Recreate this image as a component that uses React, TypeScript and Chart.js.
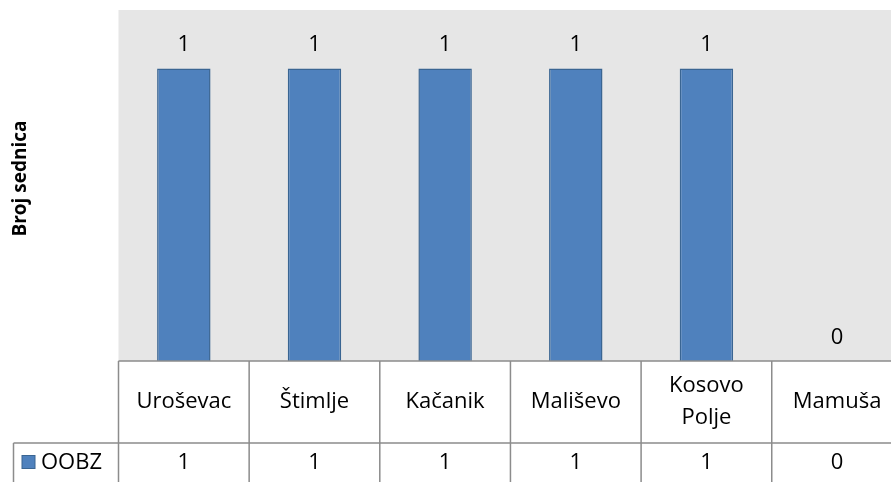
import React, { useEffect, useRef } from "react";
import { Chart, registerables } from "chart.js";

Chart.register(...registerables);

const categories: string[] = ["Uroševac", "Štimlje", "Kačanik", "Mališevo", "Kosovo Polje", "Mamuša"];
const categoryLines: string[][] = [["Uroševac"], ["Štimlje"], ["Kačanik"], ["Mališevo"], ["Kosovo", "Polje"], ["Mamuša"]];
const seriesName = "OOBZ";
const seriesValues: number[] = [1, 1, 1, 1, 1, 0];
const yAxisTitle = "Broj sednica";

const FONT = '"Open Sans", "Noto Sans", sans-serif';
const BAR_FILL = "#4f81bd";
const BAR_BORDER = "#3a6592";
const PLOT_BG = "#e6e6e6";
const GRID = "#8c8c8c";

const tablePlugin = {
  id: "excelTable",
  beforeDraw(chart: any) {
    const { ctx, chartArea } = chart;
    ctx.save();
    ctx.fillStyle = PLOT_BG;
    ctx.fillRect(chartArea.left, chartArea.top, chartArea.right - chartArea.left, chartArea.bottom - chartArea.top);
    ctx.restore();
  },
  afterDraw(chart: any) {
    const { ctx, chartArea } = chart;
    const n = categories.length;
    const colW = (chartArea.right - chartArea.left) / n;
    const headerTop = chartArea.bottom;
    const headerBottom = 443;
    const tableBottom = chart.height;
    const legendLeft = 13.5;
    ctx.save();
    // data labels
    const meta = chart.getDatasetMeta(0);
    ctx.fillStyle = "#000";
    ctx.font = `22px ${FONT}`;
    ctx.textAlign = "center";
    ctx.textBaseline = "alphabetic";
    meta.data.forEach((bar: any, i: number) => {
      ctx.fillText(String(seriesValues[i]), bar.x, bar.y - 17.5);
    });
    // grid lines
    ctx.strokeStyle = GRID;
    ctx.lineWidth = 1.5;
    ctx.beginPath();
    ctx.moveTo(chartArea.left, headerTop);
    ctx.lineTo(chart.width, headerTop);
    ctx.moveTo(legendLeft, headerBottom);
    ctx.lineTo(chart.width, headerBottom);
    for (let i = 0; i <= n; i++) {
      const x = chartArea.left + i * colW;
      ctx.moveTo(x, headerTop);
      ctx.lineTo(x, tableBottom);
    }
    ctx.moveTo(legendLeft, headerBottom);
    ctx.lineTo(legendLeft, tableBottom);
    ctx.stroke();
    // header texts
    ctx.fillStyle = "#000";
    ctx.textBaseline = "middle";
    const headerMid = (headerTop + headerBottom) / 2;
    const lh = 32;
    categoryLines.forEach((lines, i) => {
      const cx = chart.scales.x.getPixelForValue(i);
      const start = headerMid - ((lines.length - 1) * lh) / 2;
      lines.forEach((t, k) => ctx.fillText(t, cx, start + k * lh));
    });
    // values row
    const rowMid = 463;
    seriesValues.forEach((v, i) => {
      const cx = chart.scales.x.getPixelForValue(i);
      ctx.fillText(String(v), cx, rowMid);
    });
    // legend key
    ctx.fillStyle = BAR_FILL;
    ctx.fillRect(22, 455.5, 13, 13);
    ctx.strokeStyle = BAR_BORDER;
    ctx.lineWidth = 1;
    ctx.strokeRect(22, 455.5, 13, 13);
    ctx.fillStyle = "#000";
    ctx.textAlign = "left";
    ctx.fillText(seriesName, 41, rowMid);
    // y axis title
    ctx.save();
    ctx.translate(21, (chartArea.top + chartArea.bottom) / 2 - 7);
    ctx.rotate(-Math.PI / 2);
    ctx.textAlign = "center";
    ctx.textBaseline = "middle";
    ctx.font = `bold 19px ${FONT}`;
    ctx.fillText(yAxisTitle, 0, 0);
    ctx.restore();
    ctx.restore();
  },
};

export default function App() {
  const ref = useRef<HTMLCanvasElement | null>(null);
  useEffect(() => {
    if (!ref.current) return;
    const chart = new Chart(ref.current, {
      type: "bar",
      data: {
        labels: categories,
        datasets: [
          {
            label: seriesName,
            data: seriesValues,
            backgroundColor: BAR_FILL,
            borderColor: BAR_BORDER,
            borderWidth: 1.5,
            categoryPercentage: 1,
            barPercentage: 0.409,
          },
        ],
      },
      options: {
        responsive: false,
        animation: false,
        devicePixelRatio: 1,
        layout: { padding: { left: 118.5, top: 10, right: 2.6, bottom: 121 } },
        scales: {
          x: { display: false, offset: true },
          y: { display: false, min: 0, max: 1.2 },
        },
        plugins: { legend: { display: false }, tooltip: { enabled: false }, title: { display: false } },
      },
      plugins: [tablePlugin],
    });
    return () => chart.destroy();
  }, []);
  return (
    <div style={{ position: "fixed", left: 0, top: 0, width: 891, height: 482, overflow: "hidden", background: "#fff" }}>
      <canvas ref={ref} width={905} height={482} style={{ width: 905, height: 482, display: "block" }} />
    </div>
  );
}
